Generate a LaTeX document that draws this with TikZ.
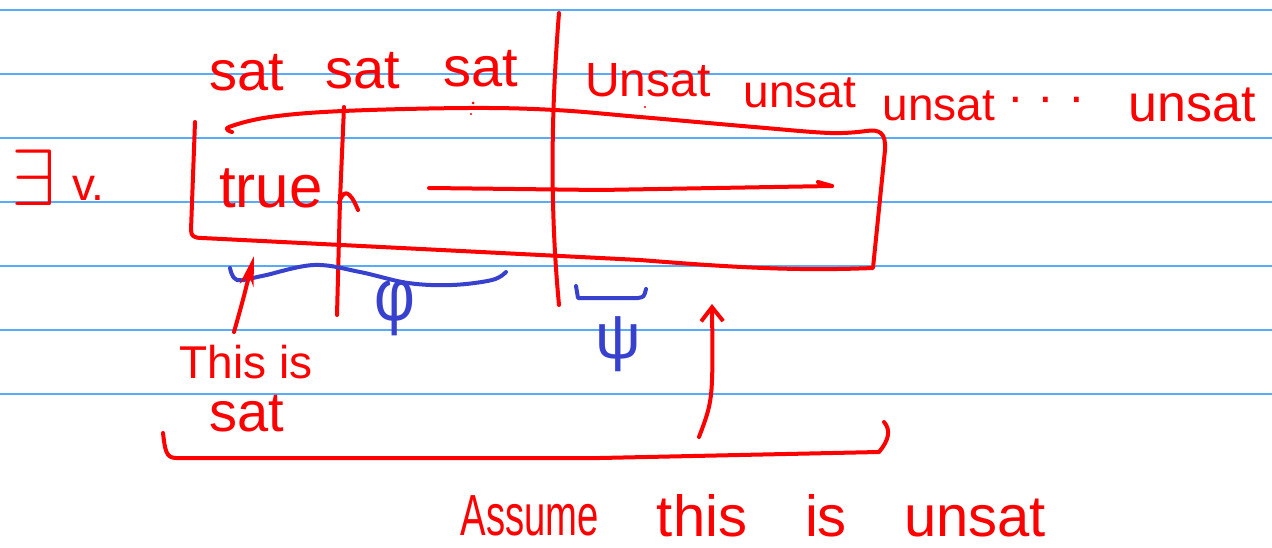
\documentclass[tikz,border=0pt]{standalone}
\usepackage{fontspec}
\setmainfont{Liberation Sans}
\usetikzlibrary{arrows.meta}
\definecolor{rulec}{RGB}{90,170,250}
\definecolor{ink}{RGB}{255,0,0}
\definecolor{bink}{RGB}{55,65,205}
\tikzset{
  ruleline/.style={draw=rulec, line width=1.6pt},
  pen/.style={draw=ink, line width=4pt, line cap=round, line join=round},
  bpen/.style={draw=bink, line width=4pt, line cap=round, line join=round},
  lbl/.style={text=ink, inner sep=0pt, anchor=base},
  blbl/.style={text=bink, inner sep=0pt},
}
\newcommand{\fs}[1]{\fontsize{#1}{#1}\selectfont}
\begin{document}
\begin{tikzpicture}[x=1pt,y=-1pt]
\useasboundingbox (0,0) rectangle (1272,548);
\fill[white] (0,0) rectangle (1272,548);
% ruled paper
\foreach \yy in {10,74,138,202,266,330,394} \draw[ruleline] (0,\yy) -- (1272,\yy);

% top labels
\node[lbl, font=\fs{56}] (s1) at (247,91) {sat};
\node[lbl, font=\fs{56}] (s2) at (363,89) {sat};
\node[lbl, font=\fs{56}] (s3) at (481,87) {sat};
\node[lbl, font=\fs{48}] (u1) at (648,97) {Unsat};
\node[lbl, font=\fs{46}] (u2) at (800,108) {unsat};
\node[lbl, font=\fs{46}] (u3) at (939,121) {unsat};
\node[lbl, font=\fs{50}] (dots) at (1046,114) {· · ·};
\node[lbl, font=\fs{52}] (u4) at (1192,122) {unsat};
\fill[ink] (473,103) circle (1.5) (471,114) circle (1.2) (645,107) circle (1.2);

% exists v.
\node[text=ink, inner sep=0pt] (ex) at (34,178) {\scalebox{8}{$\exists$}};
\node[lbl, font=\fs{46}, anchor=base west] (v) at (72,201) {v.};

% box
\draw[pen] plot[smooth, tension=0.6] coordinates {(232,132) (229,127) (270,117) (343,111) (469,108) (555,110) (640,117) (754,127) (830,133) (866,131)};
\draw[pen] (195,122) -- (191,230) .. controls (191,236) and (194,238) .. (202,238)
  -- (640,260) .. controls (740,268) and (800,271) .. (873,268)
  -- (885,150) .. controls (886,133) and (880,129) .. (866,131);

% true
\node[lbl, font=\fs{60}] (true) at (271,208) {true};

% vertical lines
\draw[pen] (344,107) -- (340,200) -- (337,315);
\draw[pen] (339,203) .. controls (343,190) and (349,188) .. (358,210);
\draw[pen] (559,13) .. controls (552,100) and (549,200) .. (559,305);

% arrow inside box
\coordinate (a1) at (429,188);
\coordinate (a2) at (832,186);
\draw[pen] (a1) -- (600,190) -- (a2);
\draw[pen] (a2) -- (818,182);

% phi brace and label
\draw[bpen] plot[smooth, tension=0.6] coordinates {(230,268) (237,280) (262,276) (314,265) (360,272) (408,283) (452,285) (492,280) (506,272)};
\node[blbl, font=\fs{74}] (phi) at (395,308) {\scalebox{0.85}[1]{φ}};

% psi brace and label
\draw[bpen] (576,286) -- (578,298) -- (638,298) .. controls (644,297) .. (646,289);
\node[blbl, font=\fs{64}] (psi) at (618,344) {ψ};

% This is sat
\node[lbl, font=\fs{46}] (this) at (246,378) {This is};
\node[lbl, font=\fs{56}] (sat) at (247,431) {sat};
\coordinate (t1) at (234,332);
\coordinate (t2) at (254,256);
\draw[pen, -{Stealth[length=30pt,width=14pt]}] (t1) .. controls (243,300) .. (t2);

% bottom bracket
\draw[pen] (163,433) .. controls (165,450) and (166,458) .. (176,458) -- (600,458) -- (879,452) .. controls (889,440) and (891,430) .. (884,422);
\coordinate (b1) at (699,437);
\coordinate (b2) at (712,304);
\draw[pen, -{Straight Barb[length=14pt,width=22pt]}] (b1) .. controls (713,400) .. (b2);

% Assume this is unsat
\node[lbl, font=\fs{58}] (w1) at (530,535) {\scalebox{0.66}[1]{Assume}};
\node[lbl, font=\fs{58}] (w2) at (702,536) {this};
\node[lbl, font=\fs{58}] (w3) at (826,536) {is};
\node[lbl, font=\fs{58}] (w4) at (975,536) {unsat};
\end{tikzpicture}
\end{document}
